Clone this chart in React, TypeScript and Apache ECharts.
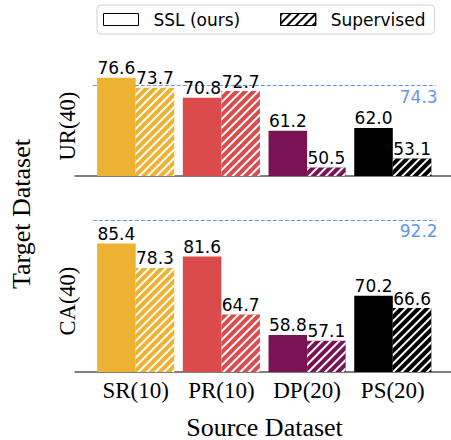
import React, { useEffect, useRef } from "react";
import * as echarts from "echarts";

// Source datasets along the x axis
const categories = ["SR(10)", "PR(10)", "DP(20)", "PS(20)"];
// Target dataset UR(40)
const urSSL = [76.6, 70.8, 61.2, 62.0];
const urSupervised = [73.7, 72.7, 50.5, 53.1];
const urReference = 74.3;
// Target dataset CA(40)
const caSSL = [85.4, 81.6, 58.8, 70.2];
const caSupervised = [78.3, 64.7, 57.1, 66.6];
const caReference = 92.2;

const palette = ["#EDB232", "#DB4B4B", "#7A1353", "#000000"];

const SERIF = "'Liberation Serif', 'Times New Roman', serif";
const SANS = "'DejaVu Sans', sans-serif";
const VALUE_FONT = 17;

const hatch = (color: string) => ({
  symbol: "rect",
  symbolSize: 1,
  color,
  dashArrayX: [1, 0],
  dashArrayY: [1.8, 3.4],
  rotation: -Math.PI / 4,
});

const barData = (vals: number[]) =>
  vals.map((v, i) => ({ value: [i, v], itemStyle: { color: palette[i] } }));

const barLabel = {
  show: true,
  position: "top" as const,
  distance: 1,
  color: "#000",
  fontSize: VALUE_FONT,
  fontFamily: SANS,
  formatter: (p: any) => Number(p.value[1]).toFixed(1),
};

// Dashed reference level with its value printed under the right end
const refSeries = (axisIdx: number, value: number) => ({
  type: "custom",
  xAxisIndex: axisIdx,
  yAxisIndex: axisIdx,
  silent: true,
  clip: false,
  data: [[-0.5, 3.5, value]],
  renderItem: (_params: any, api: any) => {
    const v = api.value(2);
    const p1 = api.coord([api.value(0), v]);
    const p2 = api.coord([api.value(1), v]);
    const y = Math.round(p1[1] - 0.5) + 0.5;
    return {
      type: "group",
      children: [
        {
          type: "line",
          shape: { x1: p1[0], y1: y, x2: p2[0], y2: y },
          style: { stroke: "#6495ED", lineWidth: 1, lineDash: [4, 2] },
        },
        {
          type: "text",
          x: p2[0] + 2,
          y: p2[1] + 11,
          style: {
            text: v.toFixed(1),
            fill: "#6495ED",
            fontSize: VALUE_FONT,
            fontFamily: SANS,
            align: "right",
            verticalAlign: "middle",
          },
        },
      ],
    };
  },
});

const X_MIN = -0.708;
const X_MAX = 3.679;

const xAxisBase = {
  type: "value" as const,
  min: X_MIN,
  max: X_MAX,
  splitLine: { show: false },
  axisTick: { show: false },
  axisLine: { show: true, onZero: false, lineStyle: { color: "#555", width: 1.5 } },
};

export default function App() {
  const ref = useRef<HTMLDivElement>(null);

  useEffect(() => {
    document.body.style.margin = "0";
    const chart = echarts.init(ref.current!, undefined, { renderer: "svg" });
    chart.setOption({
      animation: false,
      backgroundColor: "#fff",
      legend: {
        left: 97,
        top: 5,
        width: 335,
        itemWidth: 35,
        itemHeight: 12,
        itemGap: 40,
        padding: [6, 9, 6, 6],
        borderColor: "#d0d0d0",
        borderWidth: 1,
        borderRadius: 4,
        icon: "rect",
        textStyle: {
          color: "#000",
          fontSize: VALUE_FONT,
          fontFamily: SANS,
          padding: [0, 0, 0, 10],
        },
        data: [
          {
            name: "SSL (ours)",
            itemStyle: { color: "#fff", borderColor: "#000", borderWidth: 1 },
          },
          {
            name: "Supervised",
            itemStyle: {
              color: "#fff",
              borderColor: "#000",
              borderWidth: 1,
              decal: hatch("#000"),
            },
          },
        ],
      },
      grid: [
        { left: 75, width: 376, top: 66, height: 110 },
        { left: 75, width: 376, top: 210.5, height: 161.5 },
      ],
      xAxis: [
        { ...xAxisBase, gridIndex: 0, axisLabel: { show: false } },
        {
          ...xAxisBase,
          gridIndex: 1,
          axisLabel: {
            show: true,
            customValues: [0, 1, 2, 3],
            formatter: (v: number) => categories[Math.round(v)] ?? "",
            color: "#000",
            fontSize: 23,
            fontFamily: SERIF,
            margin: 7,
          },
        },
      ],
      yAxis: [
        { type: "value", gridIndex: 0, min: 48, max: 80, show: false },
        { type: "value", gridIndex: 1, min: 48, max: 95, show: false },
      ],
      series: [
        {
          name: "SSL (ours)",
          type: "bar",
          xAxisIndex: 0,
          yAxisIndex: 0,
          barWidth: "45%",
          barGap: "0%",
          data: barData(urSSL),
          label: barLabel,
        },
        {
          name: "Supervised",
          type: "bar",
          xAxisIndex: 0,
          yAxisIndex: 0,
          barWidth: "45%",
          barGap: "0%",
          data: barData(urSupervised),
          itemStyle: { decal: hatch("#fff") },
          label: barLabel,
        },
        {
          name: "SSL (ours)",
          type: "bar",
          xAxisIndex: 1,
          yAxisIndex: 1,
          barWidth: "45%",
          barGap: "0%",
          data: barData(caSSL),
          label: barLabel,
        },
        {
          name: "Supervised",
          type: "bar",
          xAxisIndex: 1,
          yAxisIndex: 1,
          barWidth: "45%",
          barGap: "0%",
          data: barData(caSupervised),
          itemStyle: { decal: hatch("#fff") },
          label: barLabel,
        },
        refSeries(0, urReference),
        refSeries(1, caReference),
      ],
      graphic: [
        {
          type: "text",
          x: 21,
          y: 214,
          rotation: Math.PI / 2,
          style: {
            text: "Target Dataset",
            fill: "#000",
            fontSize: 26,
            fontFamily: SERIF,
            align: "center",
            verticalAlign: "middle",
          },
        },
        {
          type: "text",
          x: 67.5,
          y: 126,
          rotation: Math.PI / 2,
          style: {
            text: "UR(40)",
            fill: "#000",
            fontSize: 22.5,
            fontFamily: SERIF,
            align: "center",
            verticalAlign: "middle",
          },
        },
        {
          type: "text",
          x: 67.5,
          y: 301,
          rotation: Math.PI / 2,
          style: {
            text: "CA(40)",
            fill: "#000",
            fontSize: 22.5,
            fontFamily: SERIF,
            align: "center",
            verticalAlign: "middle",
          },
        },
        {
          type: "text",
          x: 264.5,
          y: 427,
          style: {
            text: "Source Dataset",
            fill: "#000",
            fontSize: 26,
            fontFamily: SERIF,
            align: "center",
            verticalAlign: "middle",
          },
        },
      ],
    });
    return () => chart.dispose();
  }, []);

  return <div ref={ref} style={{ width: 451, height: 440 }} />;
}
